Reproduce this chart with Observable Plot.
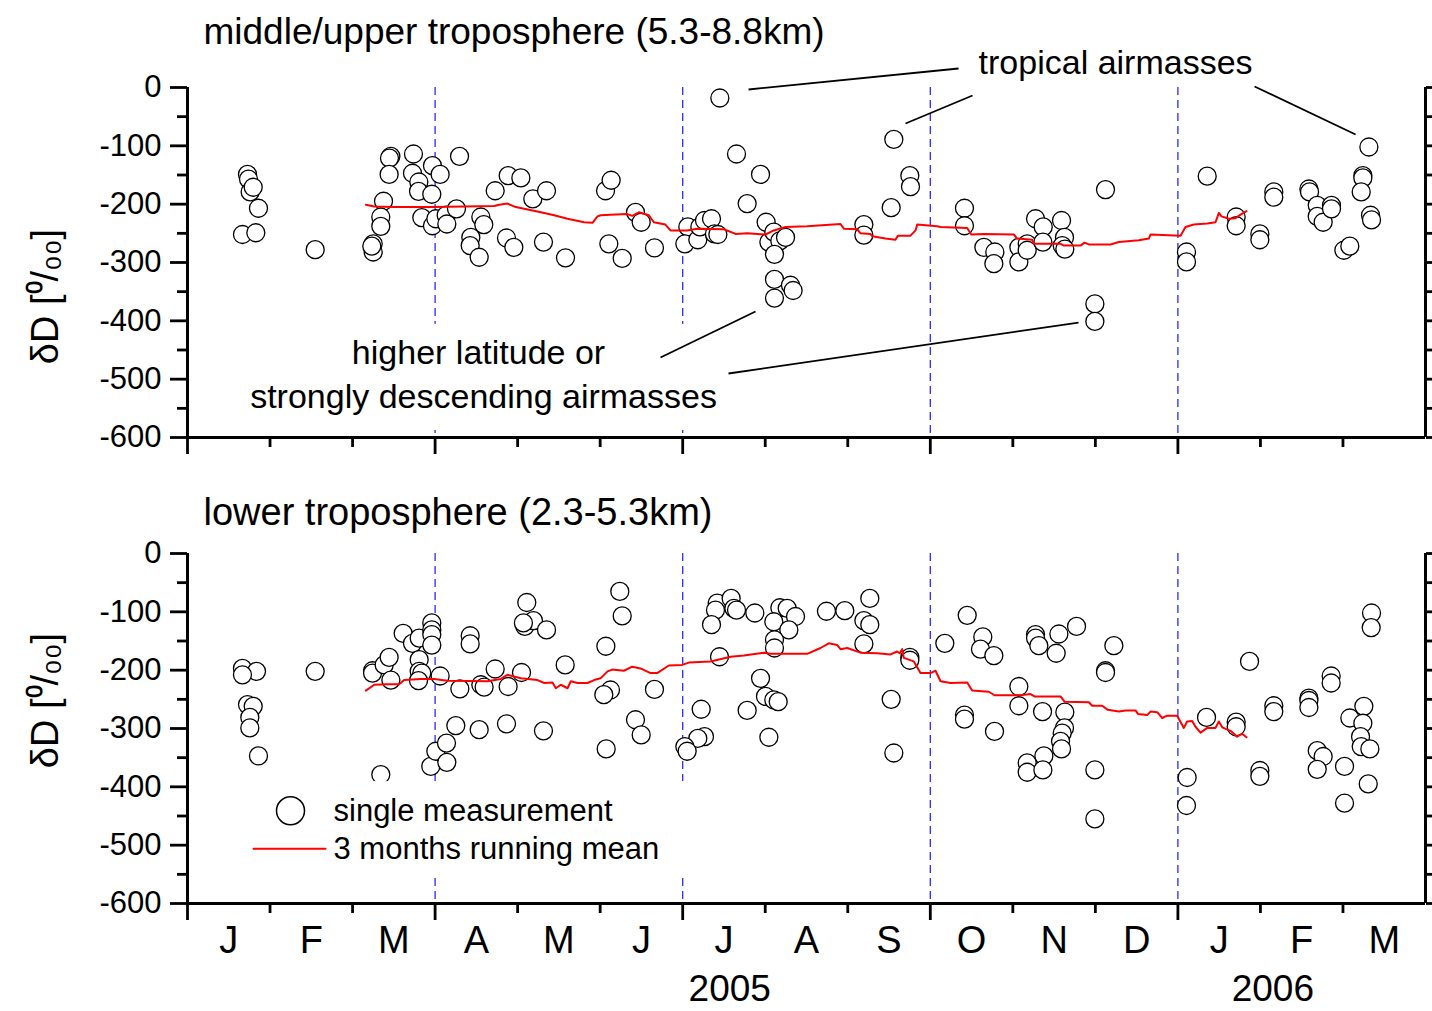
<!DOCTYPE html>
<html><head><meta charset="utf-8">
<script src="https://cdn.jsdelivr.net/npm/d3@7"></script>
<script src="https://cdn.jsdelivr.net/npm/@observablehq/plot@0.6"></script>
<style>body{margin:0;background:#fff;} #chart{width:1432px;} #chart svg{display:block;}</style>
</head><body><div id="chart"></div>
<script>
// x = months since 1 Jan 2005 (each month one unit), y = deltaD in per mil
const upperMonth = [0.727,0.739,0.759,0.796,0.860,0.666,0.828,1.547,
 2.25,2.25,2.233,2.375,2.342,2.342,2.464,2.447,2.443,
 2.738,2.726,2.803,2.799,2.96,2.968,3.061,3.296,
 2.839,2.968,3.009,3.134,3.142,3.259,3.554,3.59,
 3.433,3.425,3.534,3.728,3.885,4.039,4.184,4.35,
 3.865,3.954,4.313,4.58,
 5.065,5.133,5.105,5.267,5.428,5.497,5.658,
 6.45,6.652,6.943,6.781,7.011,6.062,6.026,6.183,6.208,6.264,6.349,6.385,6.426,
 7.044,7.104,7.177,7.246,7.112,7.112,7.306,7.338,7.112,
 8.558,8.752,8.76,8.526,8.195,8.195,
 9.414,9.414,9.649,9.782,9.77,
 10.073,10.073,10.174,10.174,10.275,10.368,10.364,10.59,10.626,10.598,10.63,11.123,10.994,10.994,
 12.104,12.104,12.355,12.706,12.706,12.993,12.993,13.162,13.162,13.587,13.595,13.688,13.688,13.76,13.861,13.861,
 14.011,14.083,14.314,14.241,14.241,14.221,14.334,14.346];
const upperDD = [-149,-157,-179,-171,-207,-252,-249,-278,
 -268,-282,-272,-195,-222,-238,-118,-121,-149,
 -114,-147,-162,-178,-183,-134,-149,-118,
 -223,-237,-225,-219,-234,-208,-222,-235,
 -257,-271,-291,-177,-151,-155,-191,-177,
 -258,-274,-265,-292,
 -177,-159,-268,-293,-214,-231,-275,
 -18,-114,-149,-199,-231,-239,-268,-261,-239,-228,-225,-251,-252,
 -265,-248,-263,-257,-286,-329,-339,-348,-361,
 -89,-151,-170,-206,-235,-253,
 -207,-237,-274,-282,-302,
 -274,-299,-268,-279,-225,-239,-265,-228,-257,-271,-277,-175,-371,-401,
 -282,-299,-152,-222,-237,-251,-261,-179,-188,-174,-179,-202,-221,-231,-202,-208,
 -279,-272,-102,-151,-155,-179,-219,-227];

const upperMeanMonth = [2.161,2.262,2.504,2.989,3.716,3.776,3.877,3.978,4.281,4.443,4.604,4.806,4.907,4.968,5.008,5.125,5.327,5.39,5.468,5.59,5.65,5.79,5.852,6.054,6.175,6.498,6.64,6.781,7.003,7.104,7.246,7.508,7.912,7.952,8.114,8.154,8.275,8.296,8.457,8.578,8.607,8.76,8.821,8.841,9.083,9.124,9.447,9.495,9.649,10.012,10.053,10.235,10.255,10.578,10.618,10.82,10.868,10.921,11.184,11.285,11.527,11.648,11.668,12.032,12.092,12.193,12.355,12.456,12.496,12.528,12.617,12.698,12.759,12.831];
const upperMeanDD = [-201,-204,-205,-205,-203,-201,-199,-205,-214,-219,-225,-231,-232,-221,-219,-218,-217,-220,-214,-219,-231,-235,-245,-245,-242,-243,-251,-250,-252,-245,-239,-238,-234,-242,-243,-250,-251,-255,-259,-261,-254,-254,-245,-235,-238,-239,-241,-252,-251,-252,-259,-261,-268,-268,-271,-271,-266,-269,-269,-265,-262,-259,-252,-254,-239,-235,-233,-231,-215,-221,-225,-224,-218,-212];

const lowerMonth = [0.666,0.836,0.666,0.727,0.796,0.755,0.755,0.86,1.547,
 2.242,2.242,2.342,2.383,2.443,2.464,2.613,2.726,2.807,2.807,2.807,2.839,2.799,2.96,2.96,2.96,2.96,2.948,3.009,3.138,3.142,3.061,3.3,3.251,3.425,3.425,3.534,3.554,3.594,3.728,3.865,3.885,4.047,4.111,4.087,4.192,4.07,4.35,4.313,4.576,
 5.069,5.125,5.044,5.073,5.238,5.267,5.428,5.497,5.658,
 6.418,6.397,6.349,6.587,6.62,6.652,6.874,6.446,6.224,6.264,6.183,6.026,6.054,
 7.177,7.266,7.367,7.104,7.286,7.112,7.112,6.943,7.003,7.104,7.157,6.781,7.044,
 7.742,7.964,8.267,8.195,8.267,8.195,8.526,8.558,8.752,8.752,
 9.176,9.447,9.636,9.608,9.77,9.414,9.414,9.778,
 10.073,10.073,10.275,10.275,10.315,10.558,10.772,10.525,10.36,10.63,10.626,10.598,10.578,10.59,10.376,10.174,10.174,10.364,10.994,10.994,11.224,11.123,11.123,
 12.112,12.104,12.347,12.706,12.706,12.868,12.993,12.993,13.162,13.162,13.587,13.587,13.587,13.857,13.857,13.688,13.76,13.688,14.019,14.019,14.083,14.253,14.241,14.213,14.221,14.326,14.306,14.346,14.342];
const lowerDD = [-197,-202,-208,-259,-262,-281,-299,-347,-202,
 -201,-205,-379,-191,-178,-217,-137,-154,-145,-182,-202,-205,-218,-119,-131,-139,-157,-365,-339,-325,-358,-210,-232,-295,-141,-155,-302,-225,-229,-198,-292,-228,-204,-84,-125,-115,-119,-131,-304,-191,
 -159,-234,-242,-335,-65,-107,-285,-311,-233,
 -85,-97,-122,-77,-94,-97,-102,-177,-267,-314,-317,-331,-339,
 -93,-94,-108,-117,-131,-148,-162,-214,-245,-251,-254,-269,-315,
 -99,-98,-77,-115,-122,-155,-250,-342,-178,-183,
 -154,-106,-143,-164,-175,-277,-284,-305,
 -228,-261,-139,-145,-158,-138,-125,-171,-271,-272,-299,-308,-322,-335,-347,-359,-375,-371,-371,-455,-158,-201,-204,
 -384,-432,-281,-289,-297,-185,-372,-382,-261,-271,-248,-252,-264,-210,-222,-338,-348,-370,-365,-428,-282,-262,-291,-314,-331,-335,-395,-102,-127];

const lowerMeanMonth = [2.161,2.262,2.423,2.565,2.625,2.827,2.989,3.15,3.635,3.796,3.877,4.039,4.241,4.322,4.422,4.463,4.523,4.604,4.645,4.725,4.847,4.927,5.004,5.089,5.145,5.287,5.388,5.489,5.61,5.69,5.832,5.993,6.074,6.337,6.58,6.741,6.983,7.064,7.508,7.67,7.77,7.872,7.912,7.993,8.154,8.356,8.518,8.598,8.63,8.659,8.679,8.8,8.881,9.002,9.063,9.124,9.245,9.447,9.507,9.709,9.778,10.093,10.214,10.263,10.578,10.626,10.921,10.961,11.083,11.151,11.285,11.365,11.487,11.515,11.628,11.668,11.749,11.81,11.87,11.991,12.072,12.112,12.173,12.213,12.274,12.355,12.456,12.496,12.537,12.637,12.718,12.779,12.831];
const lowerMeanDD = [-235,-225,-224,-224,-217,-215,-215,-218,-219,-215,-208,-214,-217,-222,-221,-231,-225,-231,-219,-222,-222,-217,-214,-202,-199,-201,-194,-197,-205,-205,-192,-191,-187,-185,-177,-175,-170,-172,-172,-162,-154,-157,-164,-162,-170,-171,-173,-168,-171,-164,-179,-185,-205,-205,-201,-219,-222,-221,-235,-237,-243,-243,-241,-245,-245,-254,-255,-261,-261,-268,-271,-269,-269,-275,-277,-271,-272,-282,-278,-278,-299,-288,-287,-297,-307,-299,-299,-288,-298,-304,-314,-309,-315];

// axes and labels
const monthLabels = ["J","F","M","A","M","J","J","A","S","O","N","D","J","F","M"];
const monthMid = monthLabels.map((_, i) => i + 0.5);
const xMajor = [0, 3, 6, 9, 12];
const xMinor = [1, 2, 4, 5, 7, 8, 10, 11, 13, 14];
const quarterLines = [3, 6, 9, 12];
const yMajor = [0, -100, -200, -300, -400, -500, -600];
const yMinor = [-50, -150, -250, -350, -450, -550];
const yearLabels = ["2005", "2006"];
const yearPos = [6.57, 13.15];
const yLabel = "δD [⁰/₀₀]";
const titles = ["middle/upper troposphere (5.3-8.8km)", "lower troposphere (2.3-5.3km)"];

// annotations of the upper panel: [x1, y1, x2, y2]
const annLines = [[6.798,-3.4,9.342,32.6],[8.70,-61.7,9.512,-13.7],[12.929,1.7,14.153,-80.6],[5.731,-462.9,6.882,-384],[6.555,-490.3,10.796,-402.9]];
const annTexts = ["tropical airmasses", "higher latitude or", "strongly descending airmasses"];
const annX = [11.245, 3.526, 3.587];
const annY = [41, -456, -531];
const upperMask = [0.7, 6.48, -406, -588];   // text background box
// legend of the lower panel
const legendTexts = ["single measurement", "3 months running mean"];
const legendTextX = 1.769;
const legendY = [-441, -506];
const legendSymX = 1.248;
const legendLineX = [0.8, 1.672];
const lowerMask = [0.16, 6.1, -391, -557];    // legend background box

const FONT = "Liberation Sans, Arial, Helvetica, sans-serif";

function axes() {
  return [
    Plot.ruleX([0, 15], {strokeWidth: 3}),
    Plot.ruleY([-600], {strokeWidth: 3}),
    Plot.axisY(yMajor, {anchor: "left", tickSize: 17, tickPadding: 9, tickFormat: d => String(d), fontSize: 31, strokeWidth: 2.8, label: null}),
    Plot.axisY(yMinor, {anchor: "left", tickSize: 10, tickFormat: () => "", strokeWidth: 2.8, label: null}),
    Plot.axisY(yMajor.concat(yMinor), {anchor: "right", tickSize: 10, tickFormat: () => "", strokeWidth: 2.8, label: null}),
    Plot.axisX(xMajor, {anchor: "bottom", tickSize: 17, tickFormat: () => "", strokeWidth: 2.8, label: null}),
    Plot.axisX(xMinor, {anchor: "bottom", tickSize: 10, tickFormat: () => "", strokeWidth: 2.8, label: null})
  ];
}

function panel(cfg) {
  return Plot.plot({
    width: 1432, height: cfg.height,
    marginLeft: 187, marginRight: 7, marginTop: cfg.marginTop, marginBottom: cfg.marginBottom,
    x: {domain: [0, 15], axis: null},
    y: {domain: [-600, 0], axis: null},
    style: {fontFamily: FONT, background: "white", color: "black", overflow: "hidden"},
    marks: [
      Plot.ruleX(quarterLines, {stroke: "#2a2aff", strokeWidth: 1.3, strokeDasharray: "8,5"}),
      ...cfg.before,
      Plot.dot(cfg.dd, {x: cfg.months, y: cfg.dd, r: 9, fill: "white", stroke: "black", strokeWidth: 1.3}),
      Plot.line(cfg.meanD, {x: cfg.meanM, y: cfg.meanD, stroke: "red", strokeWidth: 2}),
      ...cfg.after,
      ...axes(),
      Plot.text([cfg.title], {frameAnchor: "top-left", dx: 16, dy: cfg.titleDy, textAnchor: "start", lineAnchor: "middle", fontSize: cfg.titleSize}),
      Plot.text([yLabel], {frameAnchor: "left", dx: -142, dy: cfg.labelDy, rotate: -90, textAnchor: "middle", lineAnchor: "middle", fontSize: 38})
    ]
  });
}

const upperPlot = panel({
  height: 470, marginTop: 87, marginBottom: 33, titleDy: -55, labelDy: 34, titleSize: 37,
  title: titles[0], months: upperMonth, dd: upperDD, meanM: upperMeanMonth, meanD: upperMeanDD,
  before: [Plot.rect([upperMask], {x1: d => d[0], x2: d => d[1], y1: d => d[2], y2: d => d[3], fill: "white"})],
  after: [
    Plot.link(annLines, {x1: d => d[0], y1: d => d[1], x2: d => d[2], y2: d => d[3], stroke: "black", strokeWidth: 1.8}),
    Plot.text(annTexts, {x: annX, y: annY, fontSize: 34, lineAnchor: "middle"})
  ]
});

const lowerPlot = panel({
  height: 541, marginTop: 83, marginBottom: 108, titleDy: -41, labelDy: -28, titleSize: 38,
  title: titles[1], months: lowerMonth, dd: lowerDD, meanM: lowerMeanMonth, meanD: lowerMeanDD,
  before: [],
  after: [
    Plot.rect([lowerMask], {x1: d => d[0], x2: d => d[1], y1: d => d[2], y2: d => d[3], fill: "white"}),
    Plot.dot([legendY[0]], {x: legendSymX, y: legendY[0], r: 14, fill: "white", stroke: "black", strokeWidth: 1.5}),
    Plot.line(legendLineX, {x: d => d, y: () => legendY[1], stroke: "red", strokeWidth: 2}),
    Plot.text(legendTexts, {x: legendTextX, y: legendY, textAnchor: "start", lineAnchor: "middle", fontSize: 31}),
    Plot.text(monthLabels, {x: monthMid, frameAnchor: "bottom", dy: 37, lineAnchor: "middle", fontSize: 38}),
    Plot.text(yearLabels, {x: yearPos, frameAnchor: "bottom", dy: 86, lineAnchor: "middle", fontSize: 37})
  ]
});

document.getElementById("chart").append(upperPlot, lowerPlot);
</script></body></html>
